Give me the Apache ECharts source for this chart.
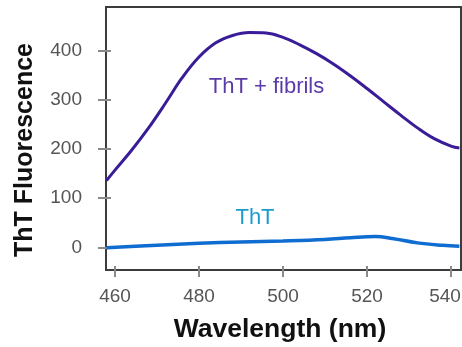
<!DOCTYPE html>
<html>
<head>
<meta charset="utf-8">
<script src="https://cdn.jsdelivr.net/npm/echarts@6/dist/echarts.min.js"></script>
<style>html,body{margin:0;padding:0;background:#fff}#c{width:462px;height:347px}</style>
</head>
<body>
<div id="c"></div>
<script>
// wavelength (nm) and fluorescence readings
const fibrilsWavelength = [458,460,464,468,472,476,480,484,488,492,496,500,504,508,512,516,520,524,528,532,536,540,542];
const fibrilsValues     = [136,157,198,243,293,345,387,416,431,437,436,427,412,394,373,349,323,296,269,243,221,206,202];
const thtWavelength = [458,470,480,490,500,510,516,522,526,532,538,542];
const thtValues     = [-1,4,8,11,13,16,19.5,22,18,9,4,2];
const xTicks = [460,480,500,520,540];
const yTicks = [0,100,200,300,400];
const xTitle = 'Wavelength (nm)';
const yTitle = 'ThT Fluorescence';
const labelFibrils = 'ThT + fibrils';
const labelTht = 'ThT';

const chart = echarts.init(document.getElementById('c'), null, {renderer:'canvas'});
const FONT = '"Liberation Sans", Arial, sans-serif';
const xMin = 457.86, xMax = 542.38, yMin = -46.2, yMax = 488.9;
const G = {left:106, right:1, top:7, bottom:77};
const W = 462, H = 347;
const gw = W - G.left - G.right, gh = H - G.top - G.bottom;
const tickColor = '#8a8a8a';
const lineColor = '#3c3c3c';
const lastX = xTicks[xTicks.length - 1];

// main bottom axis (labels + outward ticks)
const xMain = {
  type:'value', min:xMin, max:xMax, position:'bottom',
  axisLine:{show:true, onZero:false, lineStyle:{color:lineColor, width:2}},
  axisTick:{show:true, length:7, customValues:xTicks, lineStyle:{color:tickColor, width:2}},
  axisLabel:{customValues:xTicks, margin:17, color:'#555', fontSize:19, fontFamily:FONT,
    formatter:v => v === lastX ? '{r|' + v + '}' : String(v),
    rich:{r:{color:'#555', fontSize:19, fontFamily:FONT, padding:[0,12,0,0]}}},
  splitLine:{show:false}
};
// helper axis: a 'top' axis moved down onto the bottom edge, so its ticks point up into the plot
const xInner = {
  type:'value', min:xMin, max:xMax, position:'top', offset:-gh,
  axisLine:{show:false, onZero:false},
  axisTick:{show:true, length:4, customValues:xTicks, lineStyle:{color:tickColor, width:2}},
  axisLabel:{show:false}, splitLine:{show:false}
};
const yMain = {
  type:'value', min:yMin, max:yMax, position:'left',
  axisLine:{show:true, onZero:false, lineStyle:{color:lineColor, width:2}},
  axisTick:{show:true, length:8, customValues:yTicks, lineStyle:{color:tickColor, width:2}},
  axisLabel:{customValues:yTicks, margin:24, color:'#555', fontSize:19, fontFamily:FONT},
  splitLine:{show:false}
};
const yInner = {
  type:'value', min:yMin, max:yMax, position:'right', offset:-gw,
  axisLine:{show:false, onZero:false},
  axisTick:{show:true, length:5, customValues:yTicks, lineStyle:{color:tickColor, width:2}},
  axisLabel:{show:false}, splitLine:{show:false}
};

chart.setOption({
  animation:false,
  backgroundColor:'#fff',
  grid:{left:G.left, right:G.right, top:G.top, bottom:G.bottom, outerBoundsMode:'none', containLabel:false, show:true, borderColor:lineColor, borderWidth:2, backgroundColor:'transparent'},
  xAxis:[xMain, xInner],
  yAxis:[yMain, yInner],
  series:[
    {type:'line', name:labelFibrils, data:fibrilsWavelength.map((w,i)=>[w,fibrilsValues[i]]),
     smooth:0.4, showSymbol:false, lineStyle:{color:'#3a1c98', width:3}},
    {type:'line', name:labelTht, data:thtWavelength.map((w,i)=>[w,thtValues[i]]),
     smooth:0.4, showSymbol:false, lineStyle:{color:'#0f6cd0', width:3.5}}
  ],
  graphic:[
    {type:'text', x:280, y:330, style:{text:xTitle, font:'bold 26.5px '+FONT, fill:'#111', align:'center', verticalAlign:'middle'}},
    {type:'text', x:25, y:150, rotation:Math.PI/2, style:{text:yTitle, font:'bold 25px '+FONT, fill:'#111', align:'center', verticalAlign:'middle'}},
    {type:'text', x:266.5, y:87, style:{text:labelFibrils, font:'22px '+FONT, fill:'#5b3ba8', align:'center', verticalAlign:'middle'}},
    {type:'text', x:255, y:218, style:{text:labelTht, font:'22px '+FONT, fill:'#1c9ccc', align:'center', verticalAlign:'middle'}}
  ]
});
</script>
</body>
</html>
